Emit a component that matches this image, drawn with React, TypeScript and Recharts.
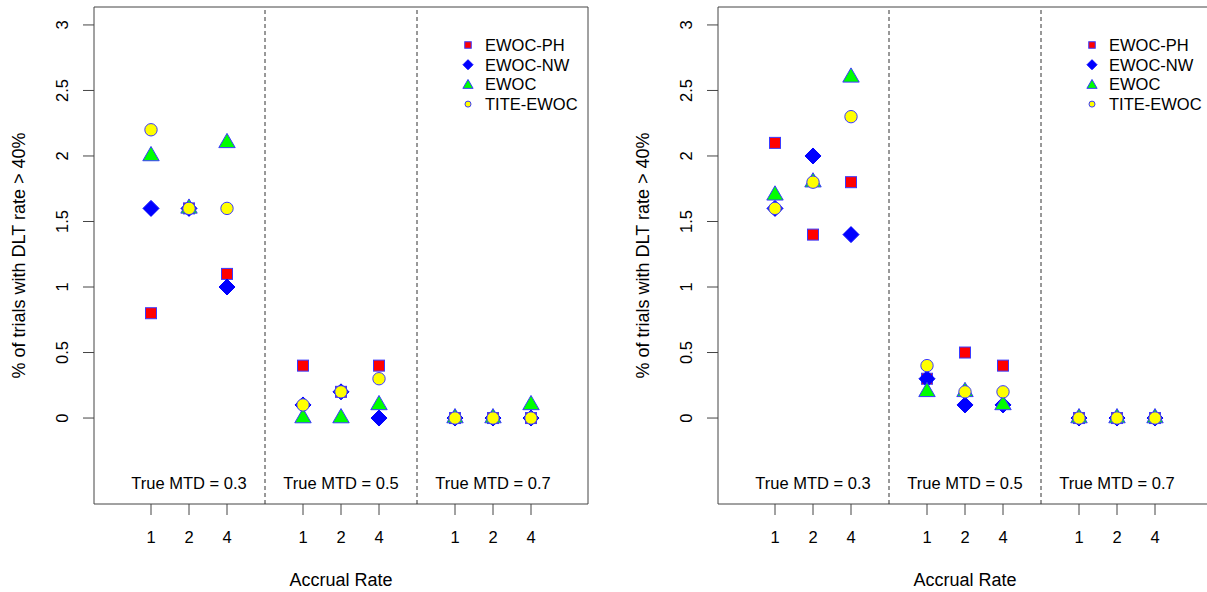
import React from 'react';
import { ScatterChart, Scatter, XAxis, YAxis, ReferenceLine, ReferenceArea, Label } from 'recharts';

// x positions: accrual rate 1, 2, 4 inside each true-MTD block
const rateLabels = ['1', '2', '4'];
const mtdLabels = ['True MTD = 0.3', 'True MTD = 0.5', 'True MTD = 0.7'];
const seriesNames = ['EWOC-PH', 'EWOC-NW', 'EWOC', 'TITE-EWOC'];
const yTicks = [0, 0.5, 1, 1.5, 2, 2.5, 3];

// left panel, % of trials with DLT rate > 40%
const leftPH = [0.8, 1.6, 1.1, 0.4, 0.2, 0.4, 0, 0, 0];
const leftNW = [1.6, 1.6, 1.0, 0.1, 0.2, 0, 0, 0, 0];
const leftEWOC = [2.0, 1.6, 2.1, 0, 0, 0.1, 0, 0, 0.1];
const leftTITE = [2.2, 1.6, 1.6, 0.1, 0.2, 0.3, 0, 0, 0];

// right panel
const rightPH = [2.1, 1.4, 1.8, 0.3, 0.5, 0.4, 0, 0, 0];
const rightNW = [1.6, 2.0, 1.4, 0.3, 0.1, 0.1, 0, 0, 0];
const rightEWOC = [1.7, 1.8, 2.6, 0.2, 0.2, 0.1, 0, 0, 0];
const rightTITE = [1.6, 1.8, 2.3, 0.4, 0.2, 0.2, 0, 0, 0];

const FONT = '"Liberation Sans", Arial, sans-serif';
const EDGE = '#3a3aff';

const pos = (i: number) => Math.floor(i / 3) * 4 + (i % 3) + 1;
const xTicks = Array.from({ length: 9 }, (_, i) => pos(i));
const separators = [4, 8];
const toPoints = (vals: number[]) => vals.map((v, i) => ({ x: pos(i), y: v }));
const mtdPoints = mtdLabels.map((label, g) => ({ x: g * 4 + 2, y: -0.5, label }));

const Square = ({ cx, cy, s = 11 }: any) => (
  <rect x={cx - s / 2} y={cy - s / 2} width={s} height={s} fill="#ff0000" stroke={EDGE} strokeWidth={1} />
);
const Diamond = ({ cx, cy, h = 8 }: any) => (
  <polygon points={`${cx},${cy - h} ${cx + h},${cy} ${cx},${cy + h} ${cx - h},${cy}`} fill="#0000ff" stroke="#0000ff" strokeWidth={1} />
);
const Triangle = ({ cx, cy, u = 6.1 }: any) => (
  <polygon
    points={`${cx},${cy - 1.555 * u} ${cx + 1.347 * u},${cy + 0.778 * u} ${cx - 1.347 * u},${cy + 0.778 * u}`}
    fill="#00ff00" stroke={EDGE} strokeWidth={1}
  />
);
const Circle = ({ cx, cy, r = 6.2 }: any) => (
  <circle cx={cx} cy={cy} r={r} fill="#ffff00" stroke={EDGE} strokeWidth={1} />
);

const shapes = [Square, Diamond, Triangle, Circle];
const legendSizes = [{ s: 6.5 }, { h: 5 }, { u: 3.8 }, { r: 3 }];

const LegendBox = () => (
  <svg width={130} height={90} style={{ overflow: 'visible', display: 'block' }}>
    {seriesNames.map((name, i) => {
      const Shape = shapes[i];
      const cy = 12 + i * 19.7;
      return (
        <g key={name}>
          <Shape cx={8} cy={i === 2 ? cy + 1 : cy} {...legendSizes[i]} />
          <text x={25} y={cy} dy="0.355em" fontSize={16.5} fill="#000">{name}</text>
        </g>
      );
    })}
  </svg>
);

const YTick = ({ x, y, payload }: any) => (
  <text x={x} y={y} transform={`rotate(-90 ${x} ${y})`} textAnchor="middle" dominantBaseline="central" fontSize={16.5} fill="#000">
    {payload.value}
  </text>
);

const XTick = ({ x, y, payload }: any) => (
  <text x={x} y={y} dy="0.355em" textAnchor="middle" fontSize={16.5} fill="#000">
    {rateLabels[xTicks.indexOf(payload.value) % 3]}
  </text>
);

const MtdText = ({ cx, cy, payload }: any) => (
  <text x={cx} y={cy} dy="0.355em" textAnchor="middle" fontSize={16.5} fill="#000">{payload.label}</text>
);

const yTitle = ({ viewBox }: any) => {
  const x = viewBox.x + 19;
  const y = viewBox.y + viewBox.height / 2;
  return (
    <text x={x} y={y} transform={`rotate(-90 ${x} ${y})`} textAnchor="middle" dominantBaseline="central" fontSize={18} fill="#000">
      % of trials with DLT rate &gt; 40%
    </text>
  );
};

const xTitle = ({ viewBox }: any) => (
  <text x={viewBox.x + viewBox.width / 2} y={580} dy="0.355em" textAnchor="middle" fontSize={18} fill="#000">
    Accrual Rate
  </text>
);

const Panel = ({ series }: { series: number[][] }) => (
  <div style={{ position: 'relative', width: 620, height: 592 }}>
    <ScatterChart width={620} height={592} margin={{ top: 7, right: 32, bottom: 0, left: 0 }}>
      <XAxis
        dataKey="x" type="number" domain={[-0.5, 12.5]} ticks={xTicks} allowDataOverflow
        height={88} tickSize={11} tickMargin={22} axisLine={false} tickLine={{ stroke: '#444' }} tick={<XTick />}
      >
        <Label content={xTitle} />
      </XAxis>
      <YAxis
        dataKey="y" type="number" domain={[-0.656, 3.137]} ticks={yTicks} allowDataOverflow
        width={94} tickSize={11} tickMargin={21} axisLine={false} tickLine={{ stroke: '#444' }} tick={<YTick />}
      >
        <Label content={yTitle} />
      </YAxis>
      <ReferenceArea x1={-0.5} x2={12.5} y1={-0.656} y2={3.137} fill="none" stroke="#444" strokeWidth={1} ifOverflow="visible" />
      {separators.map((s) => (
        <ReferenceLine key={s} x={s} stroke="#333" strokeDasharray="4 3" />
      ))}
      <Scatter data={mtdPoints} shape={<MtdText />} isAnimationActive={false} legendType="none" />
      {series.map((vals, i) => {
        const Shape = shapes[i];
        return (
          <Scatter
            key={seriesNames[i]} name={seriesNames[i]} data={toPoints(vals)}
            shape={(p: any) => <Shape cx={p.cx} cy={p.cy} />} isAnimationActive={false}
          />
        );
      })}
    </ScatterChart>
    <div style={{ position: 'absolute', left: 460, top: 33 }}>
      <LegendBox />
    </div>
  </div>
);

export default function App() {
  return (
    <div style={{ position: 'absolute', left: 0, top: 0, width: 1207, height: 592, overflow: 'hidden', background: '#fff', fontFamily: FONT }}>
      <div style={{ position: 'absolute', left: 0, top: 0 }}>
        <Panel series={[leftPH, leftNW, leftEWOC, leftTITE]} />
      </div>
      <div style={{ position: 'absolute', left: 624, top: 0 }}>
        <Panel series={[rightPH, rightNW, rightEWOC, rightTITE]} />
      </div>
    </div>
  );
}
